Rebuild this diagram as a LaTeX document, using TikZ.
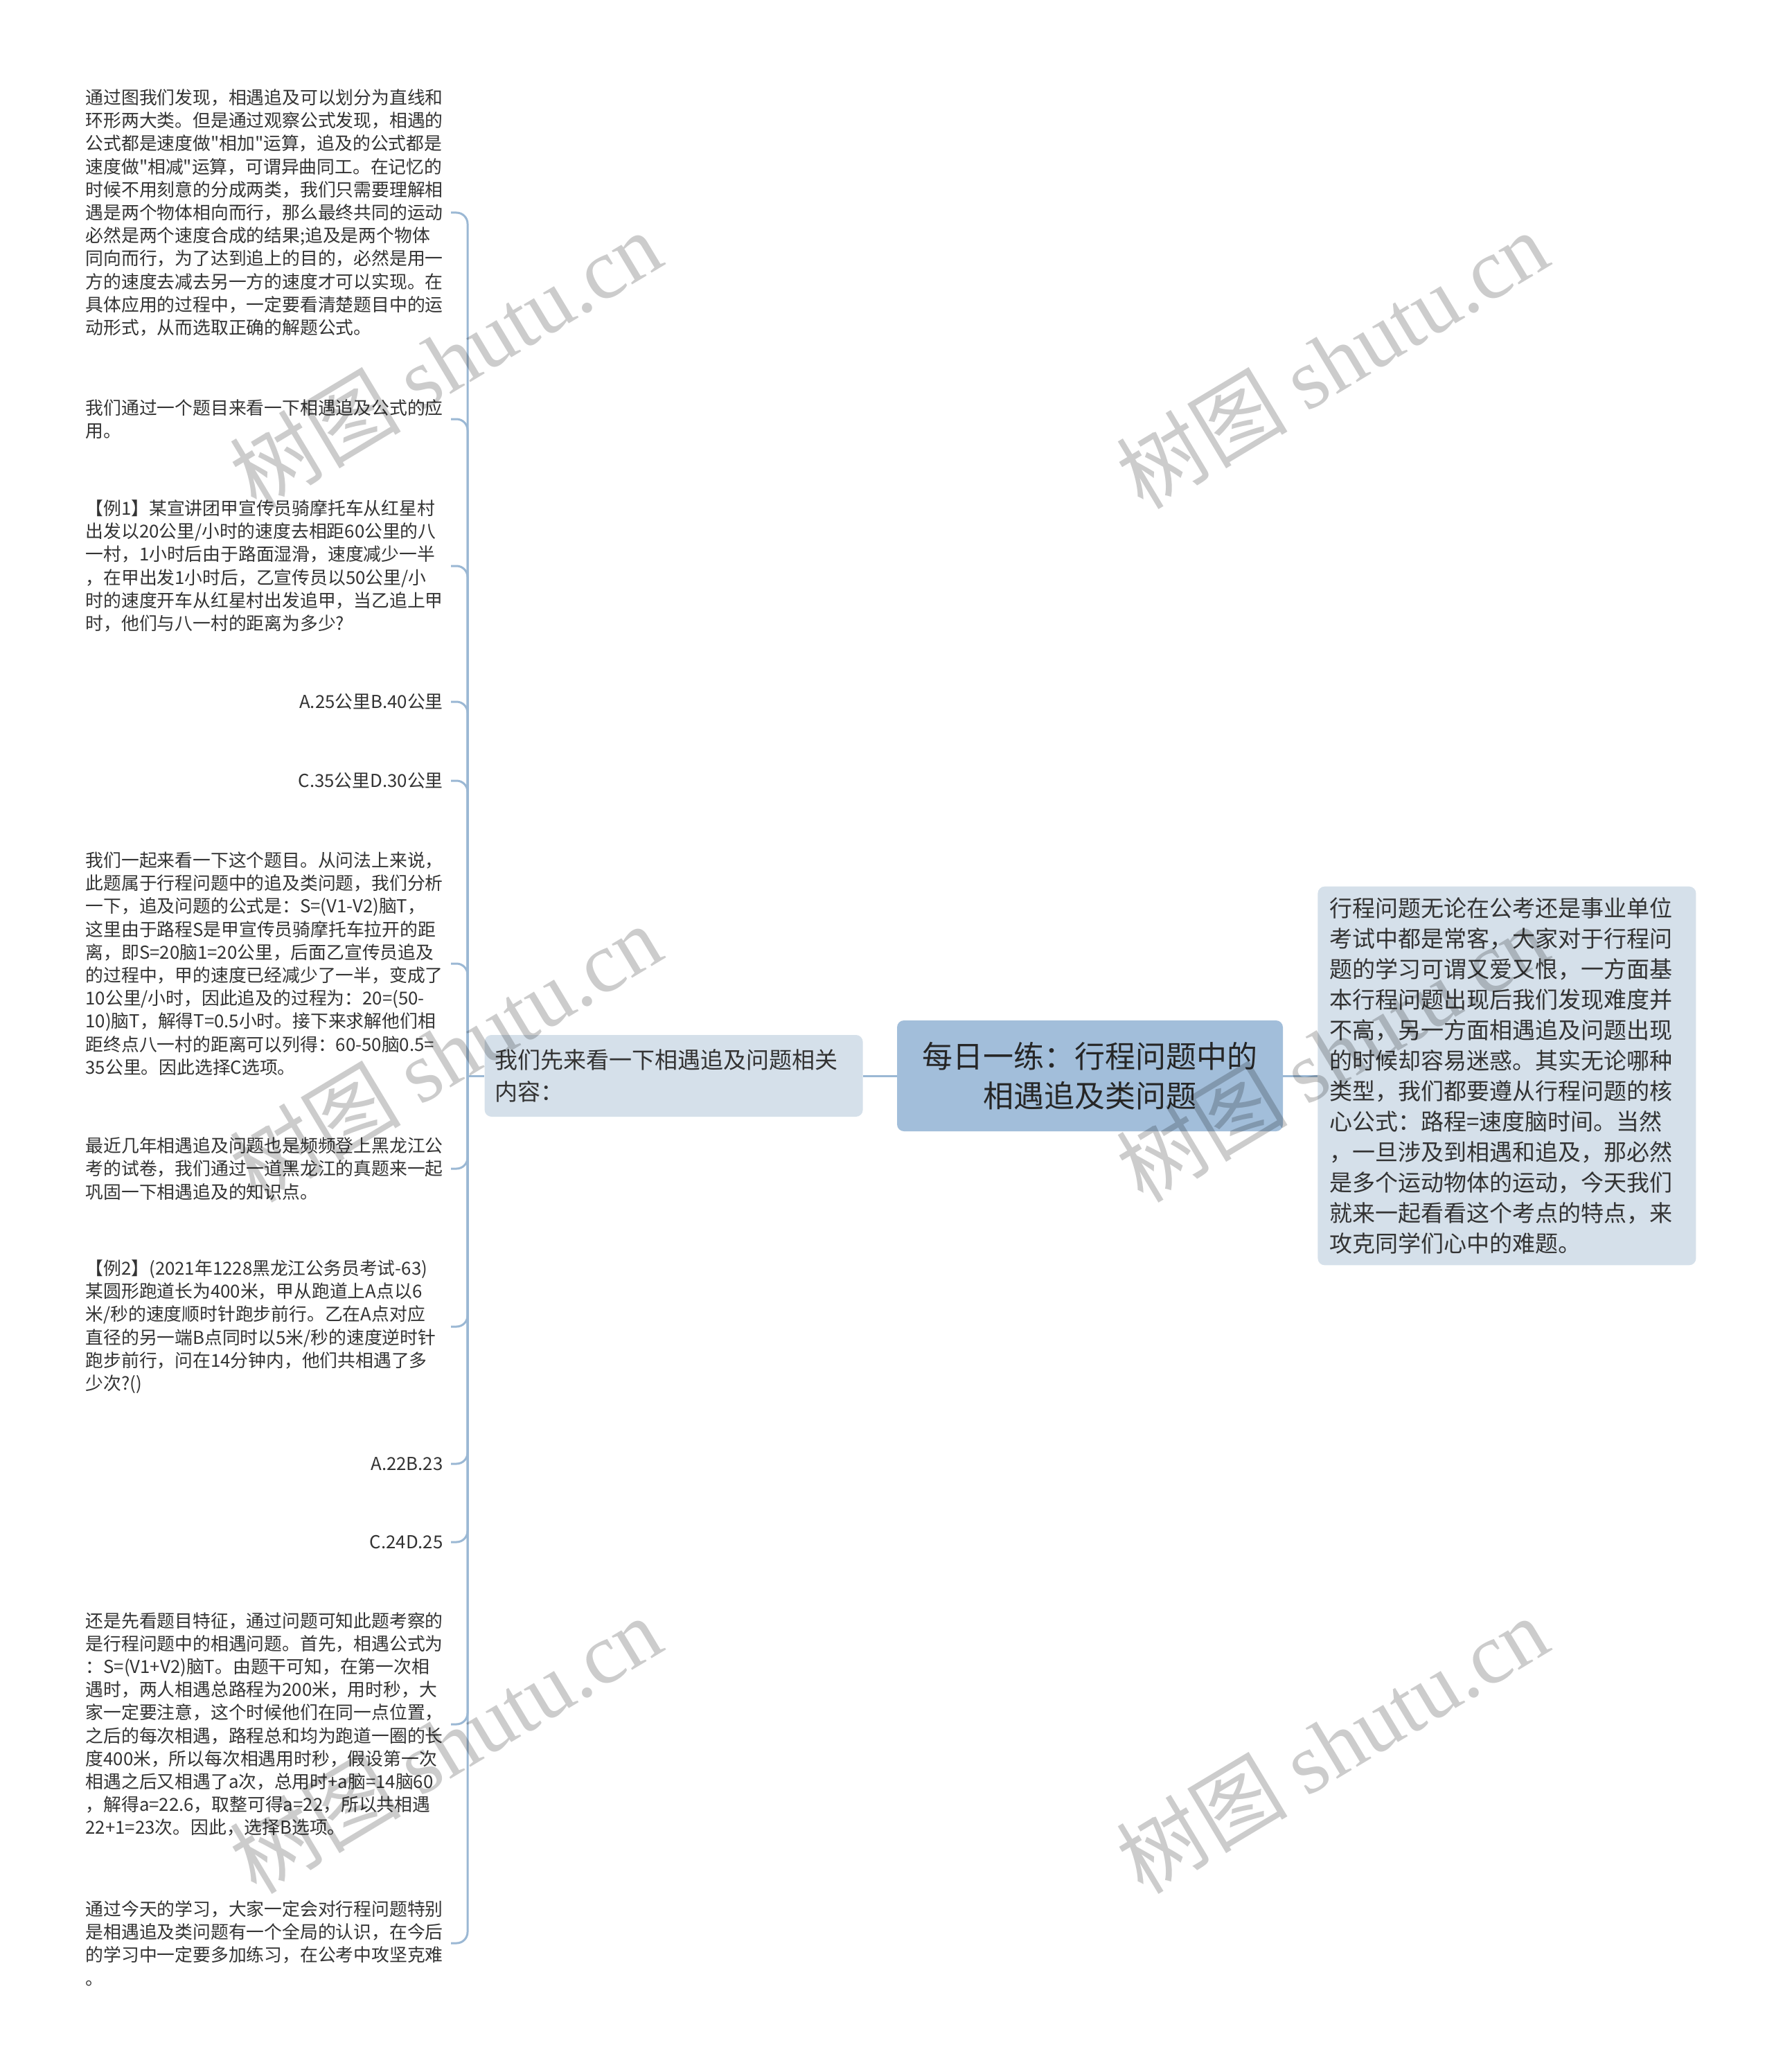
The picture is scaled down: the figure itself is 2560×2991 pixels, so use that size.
\documentclass[tikz,border=0pt]{standalone}
\usepackage{fontspec}
\setmainfont{Noto Sans CJK SC}[Ligatures=TeXOff]
\newfontfamily\wmlatin{Liberation Serif}
\newfontfamily\wmcjk{Noto Sans CJK SC}
\exhyphenpenalty=10000
\hyphenpenalty=10000

\definecolor{rootblue}{HTML}{A2BEDA}
\definecolor{paleblue}{HTML}{D5E0EA}
\definecolor{linkblue}{HTML}{9BB8D4}
\definecolor{inkgray}{HTML}{333333}

\tikzset{
  link/.style={draw=linkblue, line width=1.5pt, rounded corners=8pt},
  rootbox/.style={fill=rootblue, rounded corners=5pt, minimum width=278.5pt,
    minimum height=80pt, align=center, text=black!85,
    font=\fontsize{22}{28.6}\selectfont},
  subbox/.style={fill=paleblue, rounded corners=5pt, inner xsep=7.5pt,
    text width=258pt, minimum height=59pt, align=left, text=inkgray,
    font=\fontsize{16.5}{23}\selectfont},
  infobox/.style={fill=paleblue, rounded corners=5pt, inner xsep=8.5pt,
    inner ysep=8pt, text width=256pt, align=left, text=inkgray,
    font=\fontsize{16.5}{22}\selectfont},
  leaf/.style={anchor=east, inner xsep=5.5pt, inner ysep=0pt, text=inkgray,
    font=\fontsize{12.9}{16.6}\selectfont},
  leafbox/.style={leaf, text width=258pt, align=left},
  wmark/.style={rotate=31, text=black, text opacity=0.2,
    font=\fontsize{62}{62}\selectfont}
}

\begin{document}
\begin{tikzpicture}[x=0.5pt, y=-0.5pt]
\fill[white] (0,0) rectangle (2560,2991);
\useasboundingbox (0,0) rectangle (2560,2991);

\node[rootbox] (root) at (1573.5,1553) {每日一练：行程问题中的\\相遇追及类问题};
\node[subbox, anchor=east] (sub) at (1246,1553) {我们先来看一下相遇追及问题相关\\内容：};
\node[infobox, anchor=west] (info) at (1902,1553) {行程问题无论在公考还是事业单位\\考试中都是常客，大家对于行程问\\题的学习可谓又爱又恨，一方面基\\本行程问题出现后我们发现难度并\\不高，另一方面相遇追及问题出现\\的时候却容易迷惑。其实无论哪种\\类型，我们都要遵从行程问题的核\\心公式：路程=速度脑时间。当然\\，一旦涉及到相遇和追及，那必然\\是多个运动物体的运动，今天我们\\就来一起看看这个考点的特点，来\\攻克同学们心中的难题。};

\node[leafbox] (l1) at (651,307) {通过图我们发现，相遇追及可以划分为直线和\\环形两大类。但是通过观察公式发现，相遇的\\公式都是速度做"相加"运算，追及的公式都是\\速度做"相减"运算，可谓异曲同工。在记忆的\\时候不用刻意的分成两类，我们只需要理解相\\遇是两个物体相向而行，那么最终共同的运动\\必然是两个速度合成的结果;追及是两个物体\\同向而行，为了达到追上的目的，必然是用一\\方的速度去减去另一方的速度才可以实现。在\\具体应用的过程中，一定要看清楚题目中的运\\动形式，从而选取正确的解题公式。};
\node[leafbox] (l2) at (651,605) {我们通过一个题目来看一下相遇追及公式的应\\用。};
\node[leafbox] (l3) at (651,817) {【例1】某宣讲团甲宣传员骑摩托车从红星村\\出发以20公里/小时的速度去相距60公里的八\\一村，1小时后由于路面湿滑，速度减少一半\\，在甲出发1小时后，乙宣传员以50公里/小\\时的速度开车从红星村出发追甲，当乙追上甲\\时，他们与八一村的距离为多少?};
\node[leaf] (l4) at (651,1013) {A.25公里B.40公里};
\node[leaf] (l5) at (651,1127) {C.35公里D.30公里};
\node[leafbox] (l6) at (651,1391) {我们一起来看一下这个题目。从问法上来说，\\此题属于行程问题中的追及类问题，我们分析\\一下，追及问题的公式是：S=(V1-V2)脑T，\\这里由于路程S是甲宣传员骑摩托车拉开的距\\离，即S=20脑1=20公里，后面乙宣传员追及\\的过程中，甲的速度已经减少了一半，变成了\\10公里/小时，因此追及的过程为：20=(50-\\10)脑T，解得T=0.5小时。接下来求解他们相\\距终点八一村的距离可以列得：60-50脑0.5=\\35公里。因此选择C选项。};
\node[leafbox] (l7) at (651,1687) {最近几年相遇追及问题也是频频登上黑龙江公\\考的试卷，我们通过一道黑龙江的真题来一起\\巩固一下相遇追及的知识点。};
\node[leafbox] (l8) at (651,1915) {【例2】(2021年1228黑龙江公务员考试-63)\\某圆形跑道长为400米，甲从跑道上A点以6\\米/秒的速度顺时针跑步前行。乙在A点对应\\直径的另一端B点同时以5米/秒的速度逆时针\\跑步前行，问在14分钟内，他们共相遇了多\\少次?()};
\node[leaf] (l9) at (651,2113) {A.22B.23};
\node[leaf] (l10) at (651,2226) {C.24D.25};
\node[leafbox] (l11) at (651,2489) {还是先看题目特征，通过问题可知此题考察的\\是行程问题中的相遇问题。首先，相遇公式为\\：S=(V1+V2)脑T。由题干可知，在第一次相\\遇时，两人相遇总路程为200米，用时秒，大\\家一定要注意，这个时候他们在同一点位置，\\之后的每次相遇，路程总和均为跑道一圈的长\\度400米，所以每次相遇用时秒，假设第一次\\相遇之后又相遇了a次，总用时+a脑=14脑60\\，解得a=22.6，取整可得a=22，所以共相遇\\22+1=23次。因此，选择B选项。};
\node[leafbox] (l12) at (651,2805) {通过今天的学习，大家一定会对行程问题特别\\是相遇追及类问题有一个全局的认识，在今后\\的学习中一定要多加练习，在公考中攻坚克难\\。};

\coordinate (j) at (675,1553);
\draw[link] (root.west) -- (sub.east);
\draw[link] (root.east) -- (info.west);
\draw[link] (sub.west) -- (j);
\foreach \n in {l1,l2,l3,l4,l5,l6,l7,l8,l9,l10,l11,l12}
  \draw[link] (j) -- (j |- \n.east) -- (\n.east);

\foreach \x/\y in {643/519, 1923/519, 643/1520, 1923/1520, 643/2518, 1923/2518}
  \node[wmark] at (\x,\y) {{\wmcjk 树图} {\wmlatin shutu.cn}};
\end{tikzpicture}
\end{document}
